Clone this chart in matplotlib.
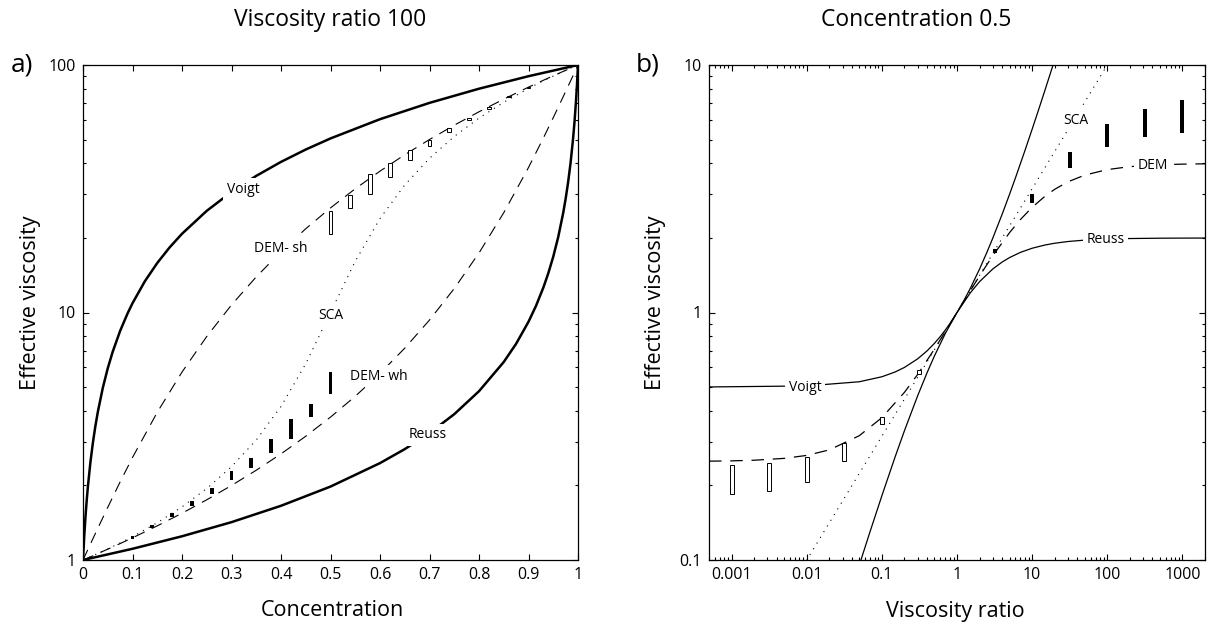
import matplotlib
matplotlib.use('Agg')
import matplotlib.pyplot as plt
from matplotlib.ticker import LogLocator, NullFormatter
import numpy as np

plt.rcParams['font.family'] = ['Open Sans', 'DejaVu Sans']

# ---- panel a) viscosity ratio 100 ----
conc = [0, 0.005, 0.01, 0.02, 0.03, 0.05, 0.075, 0.1, 0.15, 0.2, 0.25, 0.3, 0.35, 0.4, 0.45, 0.5,
        0.55, 0.6, 0.65, 0.7, 0.75, 0.8, 0.85, 0.9, 0.93, 0.95, 0.97, 0.98, 0.99, 0.995, 1.0]
sca_a = [1, 1.010, 1.020, 1.041, 1.062, 1.108, 1.172, 1.243, 1.414, 1.639, 1.944, 2.382, 3.053, 4.171, 6.208, 10.0,
         16.11, 23.97, 32.75, 41.98, 51.44, 61.04, 70.71, 80.44, 86.30, 90.21, 94.12, 96.08, 98.04, 99.02, 100]
dem_wh = [1, 1.010, 1.020, 1.040, 1.062, 1.106, 1.165, 1.229, 1.374, 1.545, 1.751, 2.0, 2.305, 2.684, 3.163, 3.779,
          4.587, 5.674, 7.176, 9.322, 12.50, 17.40, 25.30, 38.54, 50.67, 61.26, 74.39, 82.06, 90.58, 95.17, 100]
dem_sh = [1, 1.051, 1.104, 1.219, 1.344, 1.632, 2.068, 2.595, 3.952, 5.746, 8.001, 10.73, 13.93, 17.62, 21.80, 26.46,
          31.62, 37.26, 43.39, 50.0, 57.11, 64.71, 72.80, 81.38, 86.76, 90.44, 94.21, 96.12, 98.05, 99.02, 100]

conc_v = [0, 0.0025, 0.005, 0.0075, 0.01, 0.015, 0.02, 0.025, 0.03, 0.04, 0.05, 0.06, 0.075, 0.09, 0.1,
          0.125, 0.15, 0.175, 0.2, 0.25, 0.3, 0.35, 0.4, 0.45, 0.5, 0.6, 0.7, 0.8, 0.9, 1.0]
voigt_a = [1, 1.2475, 1.495, 1.7425, 1.99, 2.485, 2.98, 3.475, 3.97, 4.96, 5.95, 6.94, 8.425, 9.91, 10.9,
           13.375, 15.85, 18.325, 20.8, 25.75, 30.7, 35.65, 40.6, 45.55, 50.5, 60.4, 70.3, 80.2, 90.1, 100]
conc_r = [0, 0.1, 0.2, 0.3, 0.4, 0.5, 0.6, 0.65, 0.7, 0.75, 0.8, 0.85, 0.875, 0.9, 0.915, 0.93, 0.94,
          0.95, 0.96, 0.97, 0.975, 0.98, 0.985, 0.99, 0.993, 0.996, 0.998, 1.0]
reuss_a = [1, 1.110, 1.247, 1.422, 1.656, 1.980, 2.463, 2.805, 3.257, 3.883, 4.808, 6.309, 7.477, 9.174, 10.62,
           12.61, 14.41, 16.81, 20.16, 25.19, 28.78, 33.56, 40.24, 50.25, 59.07, 71.63, 83.47, 100]

# numerical results (bars)
c_fill = [0.10, 0.14, 0.18, 0.22, 0.26, 0.30, 0.34, 0.38, 0.42, 0.46, 0.50]
fill_lo_a = [1.219, 1.351, 1.496, 1.653, 1.843, 2.104, 2.36, 2.70, 3.07, 3.79, 4.69]
fill_hi_a = [1.250, 1.384, 1.544, 1.732, 1.960, 2.296, 2.583, 3.07, 3.71, 4.27, 5.77]
c_open = [0.50, 0.54, 0.58, 0.62, 0.66, 0.70, 0.74, 0.78, 0.82, 0.86, 0.90]
open_lo_a = [20.8, 26.5, 30.1, 35.4, 41.4, 47.1, 53.4, 59.7, 66.3, 74.0, 81.0]
open_hi_a = [25.7, 29.9, 36.3, 40.3, 45.4, 50.0, 55.8, 61.2, 67.5, 75.1, 81.7]

# ---- panel b) concentration 0.5 ----
ratio = [0.0005, 0.001, 0.002, 0.005, 0.01, 0.02, 0.05, 0.1, 0.2, 0.3, 0.5, 0.7, 1, 1.5, 2, 3, 5, 7,
         10, 15, 20, 30, 50, 100, 200, 500, 1000, 2000]
sca_b = [0.02236, 0.03162, 0.04472, 0.07071, 0.1, 0.1414, 0.2236, 0.3162, 0.4472, 0.5477, 0.7071, 0.8367, 1,
         1.2247, 1.4142, 1.7321, 2.2361, 2.6458, 3.1623, 3.873, 4.4721, 5.4772, 7.0711, 10, 14.142, 22.36, 31.62, 44.72]
dem_b = [0.2508, 0.2515, 0.2530, 0.2574, 0.2646, 0.2786, 0.3178, 0.3759, 0.4760, 0.5625, 0.7108, 0.8373, 1,
         1.2235, 1.4069, 1.697, 2.101, 2.376, 2.660, 2.959, 3.147, 3.373, 3.589, 3.779, 3.885, 3.953, 3.976, 3.988]

ratio_v = [0.0005, 0.01, 0.05, 0.1, 0.15, 0.2, 0.3, 0.4, 0.5, 0.6, 0.7, 0.8, 1, 1.25, 1.5, 2, 2.5, 3, 4, 5,
           6, 8, 10, 12, 15, 20]
voigt_b = [0.50025, 0.505, 0.525, 0.55, 0.575, 0.6, 0.65, 0.7, 0.75, 0.8, 0.85, 0.9, 1, 1.125, 1.25, 1.5,
           1.75, 2, 2.5, 3, 3.5, 4.5, 5.5, 6.5, 8, 10.5]
ratio_r = [0.04, 0.05, 0.07, 0.1, 0.15, 0.2, 0.3, 0.4, 0.5, 0.7, 1, 1.5, 2, 3, 4, 5, 7, 10, 15, 20, 30,
           50, 100, 200, 500, 1000, 2000]
reuss_b = [0.07692, 0.09524, 0.13084, 0.18182, 0.26087, 0.33333, 0.46154, 0.57143, 0.66667, 0.82353, 1,
           1.2, 1.33333, 1.5, 1.6, 1.66667, 1.75, 1.81818, 1.875, 1.90476, 1.93548, 1.96078, 1.9802,
           1.99005, 1.996, 1.998, 1.999]

r_open = [0.001, 0.00316, 0.01, 0.0316, 0.1, 0.316]
open_lo_b = [0.185, 0.19, 0.207, 0.251, 0.353, 0.562]
open_hi_b = [0.242, 0.246, 0.26, 0.296, 0.379, 0.584]
r_fill = [3.16, 10, 31.6, 100, 316, 1000]
fill_lo_b = [1.74, 2.76, 3.85, 4.68, 5.1, 5.3]
fill_hi_b = [1.80, 3.0, 4.47, 5.76, 6.62, 7.22]

fig = plt.figure(figsize=(12.09, 6.28), dpi=100)
ax1 = fig.add_axes([83 / 1209, 68 / 628, 495 / 1209, 495 / 628])
ax2 = fig.add_axes([709 / 1209, 68 / 628, 496 / 1209, 495 / 628])

dash = (0, (10, 7))
dots = (0, (1, 5))
lab = dict(fontsize=10, ha='center', va='center', zorder=5,
           bbox=dict(facecolor='white', edgecolor='none', pad=2.5))

# panel a
ax1.plot(conc_v, voigt_a, color='black', lw=1.8, zorder=2)
ax1.plot(conc_r, reuss_a, color='black', lw=1.8, zorder=2)
ax1.plot(conc, dem_sh, color='black', lw=0.8, ls=dash, zorder=2)
ax1.plot(conc, dem_wh, color='black', lw=0.8, ls=dash, zorder=2)
ax1.plot(conc, sca_a, color='black', lw=0.8, ls=dots, zorder=2)
ax1.bar(c_fill, np.array(fill_hi_a) - np.array(fill_lo_a), bottom=fill_lo_a, width=0.008,
        color='black', zorder=3)
ax1.bar(c_open, np.array(open_hi_a) - np.array(open_lo_a), bottom=open_lo_a, width=0.008,
        facecolor='white', edgecolor='black', lw=0.7, zorder=3)
ax1.text(0.323, 31.5, 'Voigt', **lab)
ax1.text(0.40, 18.2, 'DEM- sh', **lab)
ax1.text(0.50, 9.7, 'SCA', **lab)
ax1.text(0.597, 5.53, 'DEM- wh', **lab)
ax1.text(0.697, 3.2, 'Reuss', **lab)

ax1.set_yscale('log')
ax1.set_xlim(0, 1)
ax1.set_ylim(1, 100)
ax1.set_xticks([i / 10 for i in range(11)])
ax1.set_xticklabels(['0', '0.1', '0.2', '0.3', '0.4', '0.5', '0.6', '0.7', '0.8', '0.9', '1'])
ax1.set_yticks([1, 10, 100])
ax1.set_yticklabels(['1', '10', '100'])

# panel b
w = 0.027
r_o = np.array(r_open)
r_f = np.array(r_fill)
ax2.plot(ratio_v, voigt_b, color='black', lw=0.9, zorder=2)
ax2.plot(ratio_r, reuss_b, color='black', lw=0.9, zorder=2)
ax2.plot(ratio, dem_b, color='black', lw=0.9, ls=dash, zorder=2)
ax2.plot(ratio, sca_b, color='black', lw=0.8, ls=dots, zorder=2)
ax2.bar(r_o * 10 ** -w, np.array(open_hi_b) - np.array(open_lo_b), bottom=open_lo_b,
        width=r_o * (10 ** w - 10 ** -w), align='edge', facecolor='white', edgecolor='black',
        lw=0.7, zorder=3)
ax2.bar(r_f * 10 ** -w, np.array(fill_hi_b) - np.array(fill_lo_b), bottom=fill_lo_b,
        width=r_f * (10 ** w - 10 ** -w), align='edge', color='black', zorder=3)
ax2.text(0.0095, 0.5, 'Voigt', **lab)
ax2.text(95, 1.97, 'Reuss', **lab)
ax2.text(408, 3.92, 'DEM', **lab)
ax2.text(37.6, 5.97, 'SCA', **lab)

ax2.set_xscale('log')
ax2.set_yscale('log')
ax2.set_xlim(0.0005, 2000)
ax2.set_ylim(0.1, 10)
ax2.set_xticks([0.001, 0.01, 0.1, 1, 10, 100, 1000])
ax2.set_xticklabels(['0.001', '0.01', '0.1', '1', '10', '100', '1000'])
ax2.set_yticks([0.1, 1, 10])
ax2.set_yticklabels(['0.1', '1', '10'])
ax2.xaxis.set_minor_locator(LogLocator(base=10, subs=np.arange(2, 10), numticks=20))
ax2.xaxis.set_minor_formatter(NullFormatter())

for ax in (ax1, ax2):
    ax.yaxis.set_minor_locator(LogLocator(base=10, subs=np.arange(2, 10), numticks=20))
    ax.yaxis.set_minor_formatter(NullFormatter())
    ax.tick_params(which='both', direction='in', top=True, right=True, labelsize=11.5,
                   width=0.8, pad=5)
    ax.tick_params(which='major', length=4.5)
    ax.tick_params(which='minor', length=2.5)
    for s in ax.spines.values():
        s.set_linewidth(0.9)

fig.text(330 / 1209, 1 - 20 / 628, 'Viscosity ratio 100', fontsize=16.5, ha='center', va='center')
fig.text(916 / 1209, 1 - 20 / 628, 'Concentration 0.5', fontsize=16.5, ha='center', va='center')
fig.text(22 / 1209, 1 - 65 / 628, 'a)', fontsize=19, ha='center', va='center')
fig.text(648 / 1209, 1 - 65 / 628, 'b)', fontsize=19, ha='center', va='center')
fig.text(31 / 1209, 1 - 303 / 628, 'Effective viscosity', fontsize=15.5, rotation=90,
         ha='center', va='center')
fig.text(655 / 1209, 1 - 303 / 628, 'Effective viscosity', fontsize=15.5, rotation=90,
         ha='center', va='center')
fig.text(332 / 1209, 1 - 611 / 628, 'Concentration', fontsize=15.5, ha='center', va='center')
fig.text(955 / 1209, 1 - 611 / 628, 'Viscosity ratio', fontsize=15.5, ha='center', va='center')

fig.savefig('out.png', dpi=100)
